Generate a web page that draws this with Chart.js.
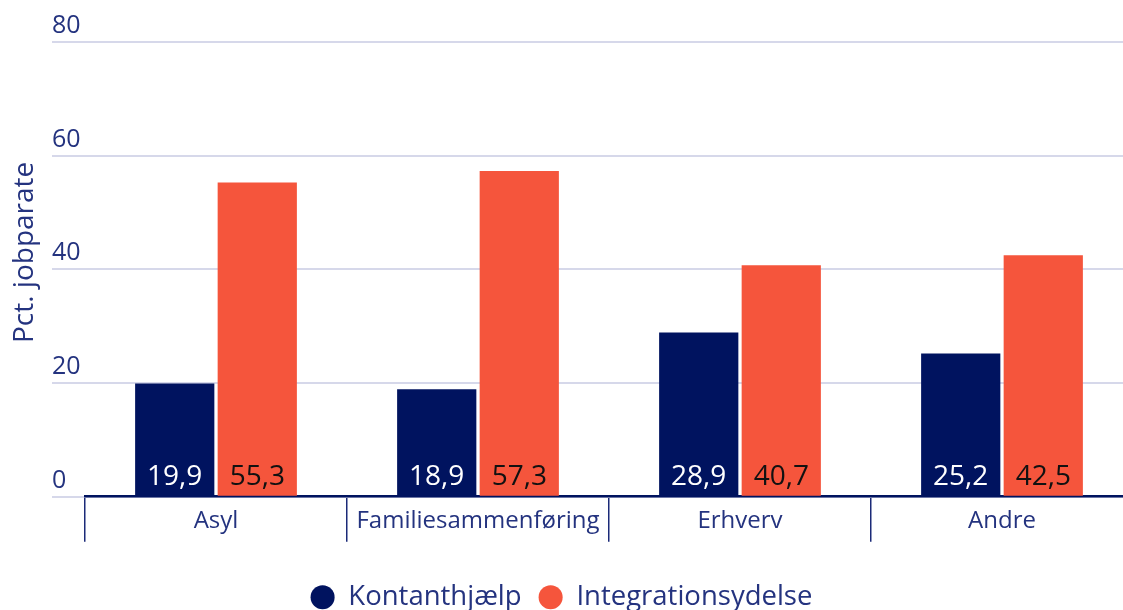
<!DOCTYPE html>
<html>
<head>
<meta charset="utf-8">
<script src="https://cdn.jsdelivr.net/npm/chart.js@4/dist/chart.umd.min.js"></script>
<style>
  html, body { margin: 0; padding: 0; background: #ffffff; overflow: hidden; }
  #wrap { position: absolute; left: -21px; top: 0; width: 1154px; height: 621px; }
</style>
</head>
<body>
<div id="wrap"><canvas id="c"></canvas></div>
<script>
const categories = ['Asyl', 'Familiesammenføring', 'Erhverv', 'Andre'];
const seriesNames = ['Kontanthjælp', 'Integrationsydelse'];
const kontanthjaelp = [19.9, 18.9, 28.9, 25.2];
const integrationsydelse = [55.3, 57.3, 40.7, 42.5];
const yTicks = [0, 20, 40, 60, 80];
const yTitle = 'Pct. jobparate';

const NAVY = '#00135f';
const ORANGE = '#f5553c';
const TEXT = '#24337f';
const GRID = '#d6d8ea';
const FONT = '"Open Sans", Roboto, sans-serif';

const valueLabels = {
  id: 'valueLabels',
  afterDatasetsDraw(chart) {
    const ctx = chart.ctx;
    ctx.save();
    ctx.font = '28px ' + FONT;
    ctx.textAlign = 'center';
    ctx.textBaseline = 'middle';
    chart.data.datasets.forEach((ds, di) => {
      const meta = chart.getDatasetMeta(di);
      meta.data.forEach((bar, i) => {
        const v = ds.data[i];
        ctx.fillStyle = di === 0 ? '#ffffff' : '#111111';
        ctx.fillText(v.toFixed(1).replace('.', ','), bar.x, bar.base - 19);
      });
    });
    ctx.restore();
  }
};

const yAxisTitle = {
  id: 'yAxisTitle',
  afterDraw(chart) {
    const ctx = chart.ctx;
    const a = chart.chartArea;
    ctx.save();
    ctx.translate(a.left - 60, (a.top + a.bottom) / 2 - 17);
    ctx.rotate(-Math.PI / 2);
    ctx.font = '28px ' + FONT;
    ctx.fillStyle = TEXT;
    ctx.textAlign = 'center';
    ctx.textBaseline = 'middle';
    ctx.fillText(yTitle, 0, 0);
    ctx.restore();
  }
};

const legendShift = {
  id: 'legendShift',
  afterLayout(chart) {
    const lg = chart.legend;
    if (lg) { lg.left -= 5; lg.right -= 5; }
  }
};

new Chart(document.getElementById('c'), {
  type: 'bar',
  data: {
    labels: categories,
    datasets: [
      { label: seriesNames[0], data: kontanthjaelp, backgroundColor: NAVY, categoryPercentage: 0.63, barPercentage: 0.96 },
      { label: seriesNames[1], data: integrationsydelse, backgroundColor: ORANGE, categoryPercentage: 0.63, barPercentage: 0.96 }
    ]
  },
  options: {
    responsive: true,
    maintainAspectRatio: false,
    animation: false,
    layout: { padding: { top: 42, left: 21, right: 0, bottom: 0 } },
    plugins: {
      tooltip: { enabled: false },
      legend: {
        position: 'bottom',
        labels: {
          usePointStyle: true,
          pointStyle: 'circle',
          boxWidth: 24,
          boxHeight: 17,
          padding: 17,
          color: TEXT,
          font: { family: FONT, size: 27.5 }
        }
      }
    },
    scales: {
      x: {
        offset: true,
        border: { display: true, color: NAVY, width: 2.5 },
        grid: { display: true, offset: true, drawOnChartArea: false, drawTicks: true, tickLength: 45, color: '#1b2a78', lineWidth: 1.5 },
        ticks: { padding: -35, color: TEXT, font: { family: FONT, size: 24 } },
        title: { display: true, text: '', font: { size: 10, lineHeight: 1 }, padding: { top: 0, bottom: 56 } }
      },
      y: {
        min: 0,
        max: 80,
        afterBuildTicks(scale) { scale.ticks = yTicks.map(v => ({ value: v })); },
        afterFit(scale) { scale.width = 85; },
        border: { display: false },
        grid: { color: GRID, lineWidth: 2, tickLength: 33, drawTicks: true },
        ticks: { mirror: true, padding: -33, labelOffset: -16, crossAlign: 'near', color: TEXT, font: { family: FONT, size: 25 } }
      }
    }
  },
  plugins: [valueLabels, yAxisTitle, legendShift]
});
</script>
</body>
</html>
